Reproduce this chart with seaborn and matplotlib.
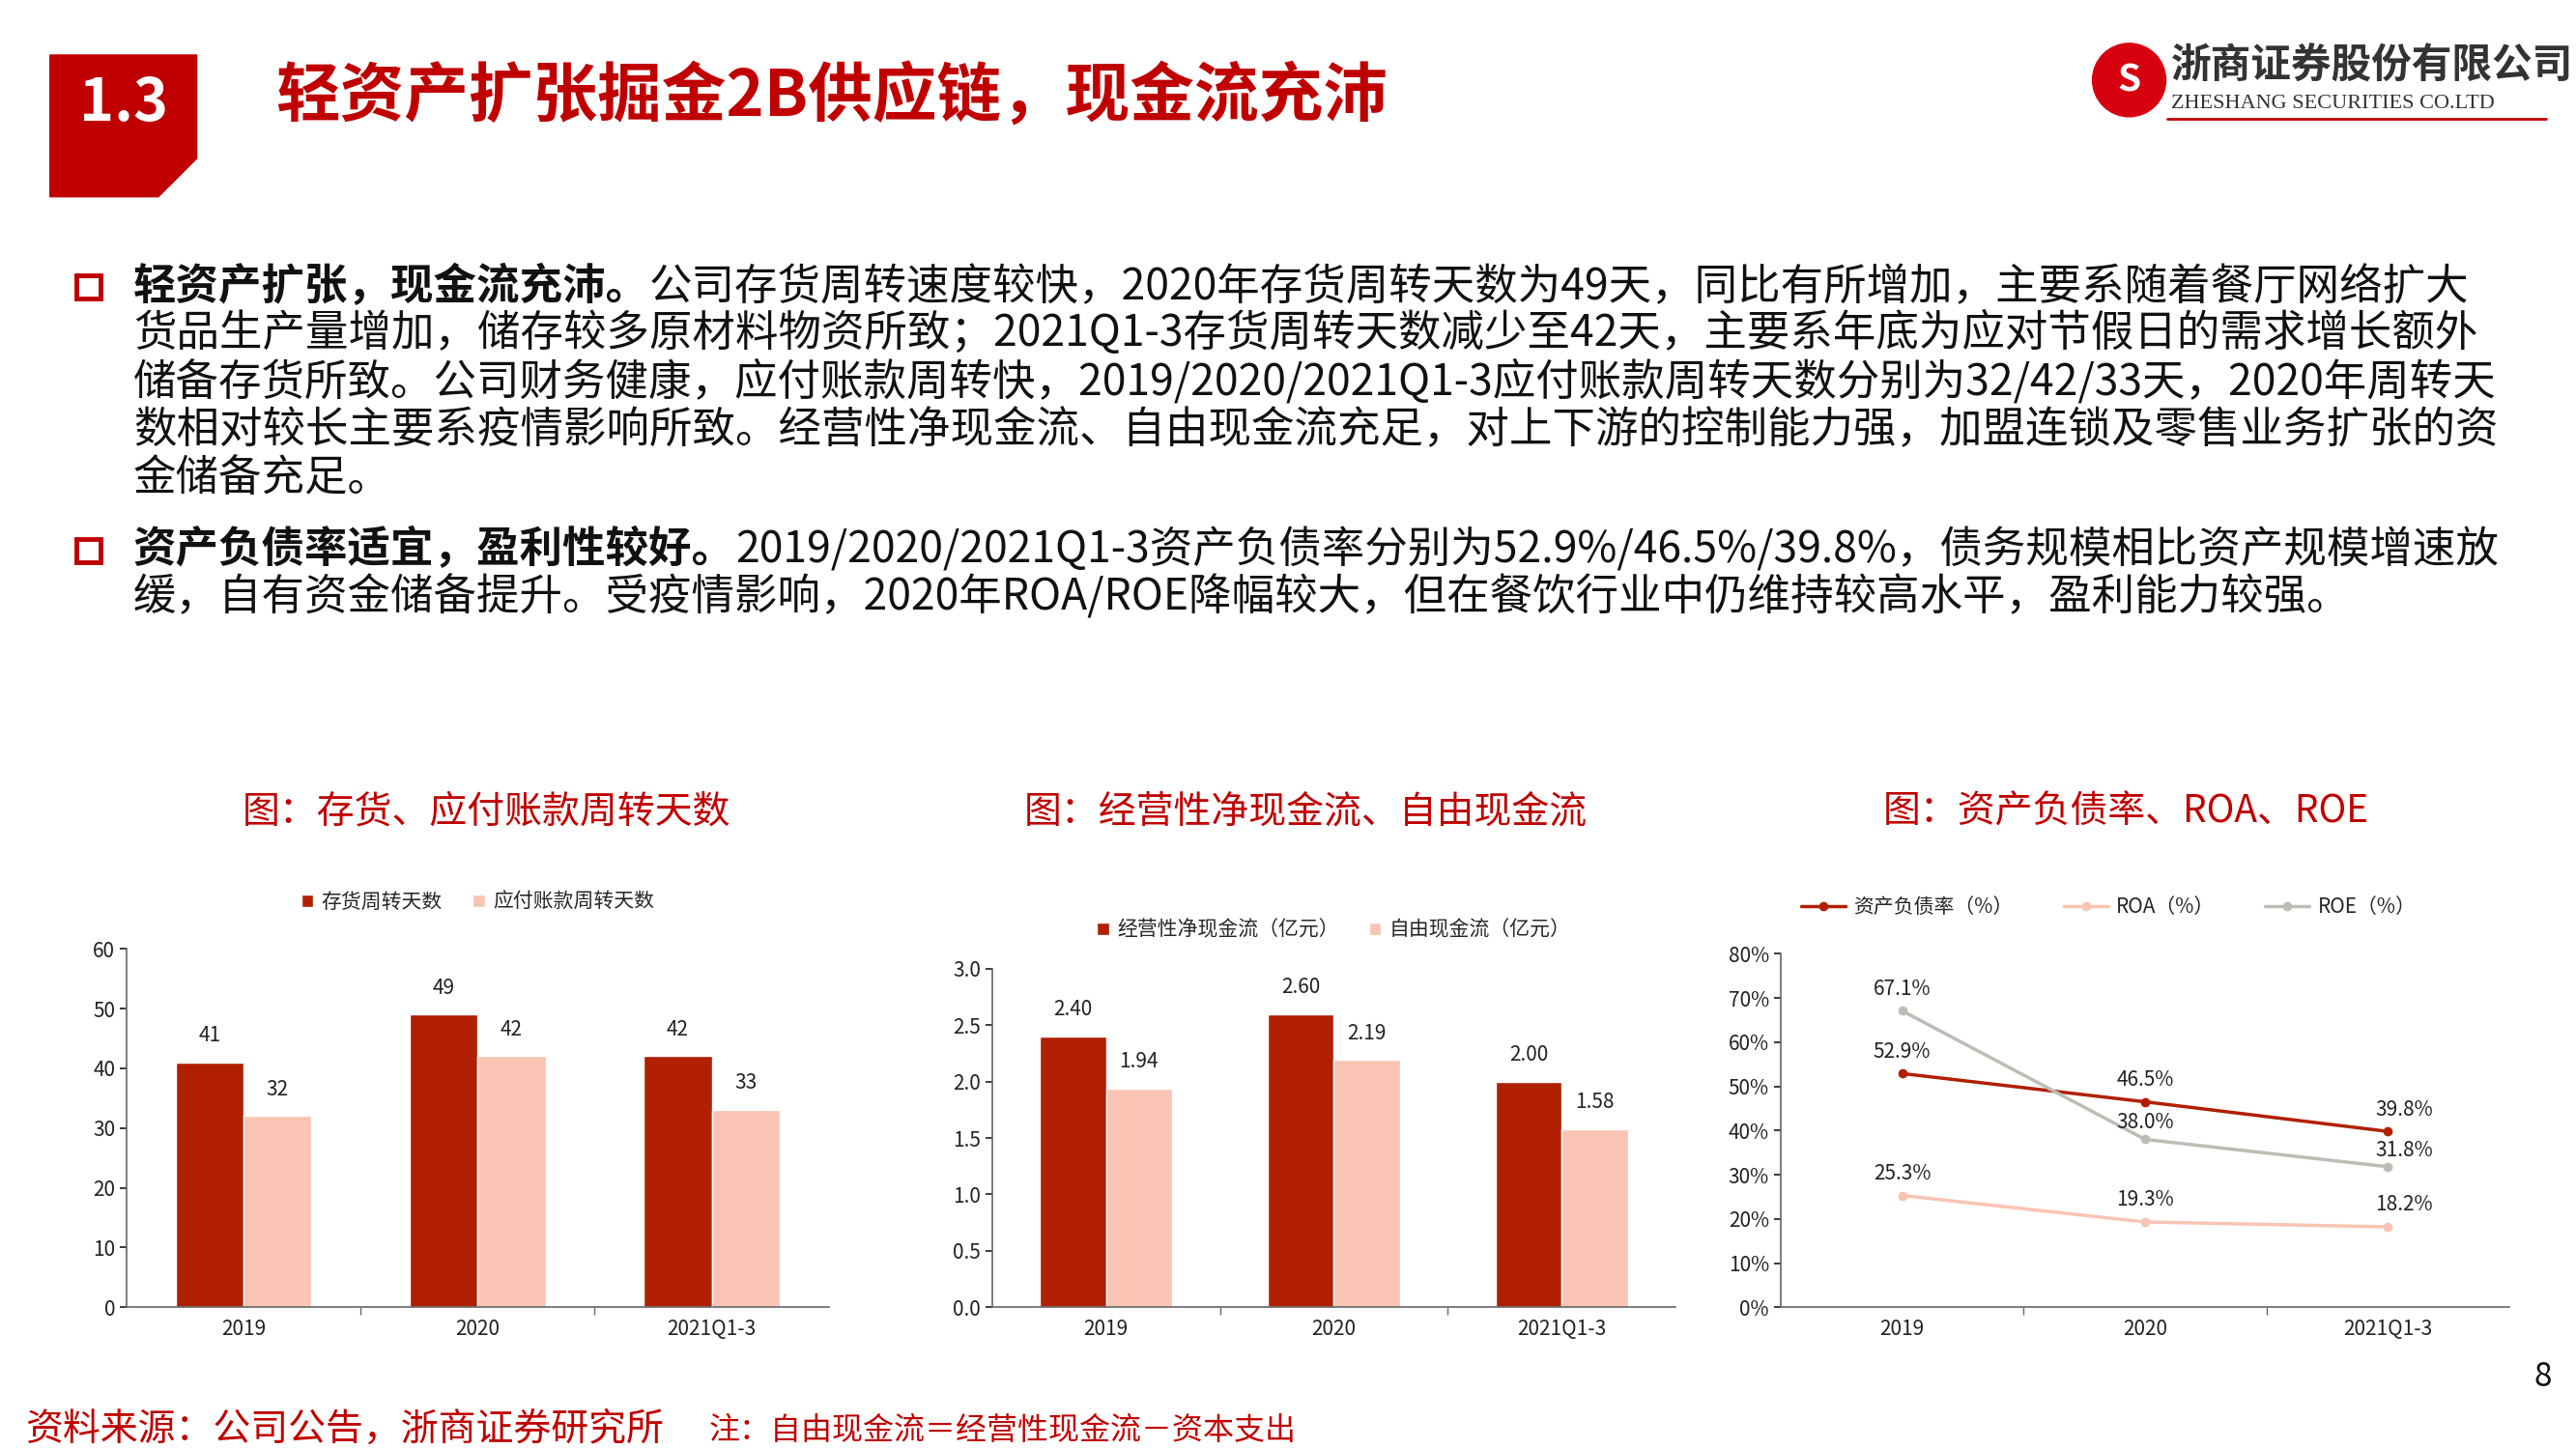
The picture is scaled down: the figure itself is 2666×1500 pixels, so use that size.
import matplotlib
matplotlib.use("Agg")
import matplotlib.pyplot as plt
import seaborn as sns
import pandas as pd
from matplotlib.patches import Rectangle, Polygon, Ellipse

sns.set_theme(style="white")
plt.rcParams['font.family'] = ['Noto Sans CJK SC', 'DejaVu Sans']

years = ["2019", "2020", "2021Q1-3"]
inv_days = [41, 49, 42]
pay_days = [32, 42, 33]
ocf = [2.40, 2.60, 2.00]
fcf = [1.94, 2.19, 1.58]
debt_ratio = [52.9, 46.5, 39.8]
roa = [25.3, 19.3, 18.2]
roe = [67.1, 38.0, 31.8]

DARK = "#B02000"
LIGHT = "#F9C4B3"
RED = "#C00000"
W, H = 1545, 869

fig = plt.figure(figsize=(26.66, 15), dpi=100)

def fx(x): return x / W
def fy(y): return 1 - y / H

# header
fig.patches.append(Polygon([[fx(30), fy(33)], [fx(118), fy(33)], [fx(118), fy(95)], [fx(95), fy(118)], [fx(30), fy(118)]],
                           closed=True, transform=fig.transFigure, color=RED))
fig.text(fx(74), fy(62), "1.3", color="white", fontsize=44, fontweight="bold", ha="center", va="center")
fig.text(fx(165), fy(58), "轻资产扩张掘金2B供应链，现金流充沛", color=RED, fontsize=48, fontweight="bold", va="center")
# logo
fig.patches.append(Ellipse((fx(1277), fy(48)), 44 / W, 44 / H, transform=fig.transFigure, color="#D7000F"))
fig.text(fx(1277), fy(48), "S", color="white", fontsize=28, fontweight="bold", ha="center", va="center")
fig.text(fx(1302), fy(40), "浙商证券股份有限公司", fontsize=30, fontweight="bold", color="#333333", va="center")
fig.text(fx(1302), fy(62), "ZHESHANG SECURITIES CO.LTD", fontsize=16, family=["Liberation Serif"], color="#333333", va="center")
fig.lines.append(plt.Line2D([fx(1300), fx(1527)], [fy(71), fy(71)], transform=fig.transFigure, color=RED, lw=2))

# body text
lines = [
    ("轻资产扩张，现金流充沛。", "公司存货周转速度较快，2020年存货周转天数为49天，同比有所增加，主要系随着餐厅网络扩大", 172),
    ("", "货品生产量增加，储存较多原材料物资所致；2021Q1-3存货周转天数减少至42天，主要系年底为应对节假日的需求增长额外", 200),
    ("", "储备存货所致。公司财务健康，应付账款周转快，2019/2020/2021Q1-3应付账款周转天数分别为32/42/33天，2020年周转天", 229),
    ("", "数相对较长主要系疫情影响所致。经营性净现金流、自由现金流充足，对上下游的控制能力强，加盟连锁及零售业务扩张的资", 258),
    ("", "金储备充足。", 287),
    ("资产负债率适宜，盈利性较好。", "2019/2020/2021Q1-3资产负债率分别为52.9%/46.5%/39.8%，债务规模相比资产规模增速放", 330),
    ("", "缓，自有资金储备提升。受疫情影响，2020年ROA/ROE降幅较大，但在餐饮行业中仍维持较高水平，盈利能力较强。", 358),
]
FS = 32
for b, n, y in lines:
    if b:
        t = fig.text(fx(80), fy(y), b, fontsize=FS, fontweight="bold", va="center", color="#111111")
        ann = plt.Annotation(n, xy=(1, 0.5), xycoords=t, va="center", fontsize=FS, color="#111111")
        fig.add_artist(ann)
        fig.patches.append(Rectangle((fx(46), fy(y + 7)), fx(14), 14 / H, transform=fig.transFigure,
                                     fill=False, ec=RED, lw=3.5))
    else:
        fig.text(fx(80), fy(y), n, fontsize=FS, va="center", color="#111111")

# chart titles
for x, s in [(292, "图：存货、应付账款周转天数"), (783, "图：经营性净现金流、自由现金流"), (1275, "图：资产负债率、ROA、ROE")]:
    fig.text(fx(x), fy(487), s, color=RED, fontsize=28, ha="center", va="center")

def style(ax):
    sns.despine(ax=ax, top=True, right=True)
    for s in ["left", "bottom"]:
        ax.spines[s].set_color("#666666")
        ax.spines[s].set_linewidth(1.2)
    ax.tick_params(axis="both", labelsize=15, colors="#222222", length=5, direction="out", left=True, bottom=False)
    ax.set_xlabel(""); ax.set_ylabel("")
    ax.set_xticks([0.5, 1.5], minor=True)
    ax.tick_params(axis="x", which="minor", length=6, bottom=True, color="#666666")

def bars(rect, v1, v2, n1, n2, ylim, step, fmt, leg_y):
    ax = fig.add_axes(rect)
    df = pd.DataFrame({"year": years * 2, "val": v1 + v2, "s": [n1] * 3 + [n2] * 3})
    sns.barplot(data=df, x="year", y="val", hue="s", palette=[DARK, LIGHT], width=0.58, ax=ax, saturation=1)
    ax.set_ylim(0, ylim)
    ax.set_yticks([i * step for i in range(int(round(ylim / step)) + 1)])
    ax.set_xlim(-0.5, 2.5)
    for c in ax.containers:
        ax.bar_label(c, fmt=fmt, padding=12, fontsize=15, color="#222222")
    ax.legend(loc="lower center", bbox_to_anchor=(0.5, leg_y), ncol=2, frameon=False, fontsize=15,
              handlelength=0.6, handleheight=0.6, handletextpad=0.4, columnspacing=1.5)
    style(ax)
    return ax

ax1 = bars([fx(76), fy(784), fx(497 - 76), (784 - 569) / H], inv_days, pay_days, "存货周转天数", "应付账款周转天数", 60, 10, "%d", 1.05)
ax1.yaxis.set_major_formatter(matplotlib.ticker.FormatStrFormatter("%d"))
ax2 = bars([fx(595), fy(784), fx(1005 - 595), (784 - 581) / H], ocf, fcf, "经营性净现金流（亿元）", "自由现金流（亿元）", 3.0, 0.5, "%.2f", 1.03)
ax2.yaxis.set_major_formatter(matplotlib.ticker.FormatStrFormatter("%.1f"))

ax3 = fig.add_axes([fx(1068), fy(784), fx(1505 - 1068), (784 - 572) / H])
ldf = pd.DataFrame({"year": years * 3, "v": debt_ratio + roa + roe,
                    "s": ["资产负债率（%）"] * 3 + ["ROA（%）"] * 3 + ["ROE（%）"] * 3})
sns.lineplot(data=ldf, x="year", y="v", hue="s", palette=[DARK, LIGHT, "#BDBDB5"], marker="o",
             markersize=7, markeredgewidth=0, linewidth=2.5, ax=ax3, sort=False)
ax3.set_ylim(0, 80)
ax3.set_xlim(-0.5, 2.5)
ax3.set_yticks(range(0, 81, 10))
ax3.set_yticklabels([f"{v}%" for v in range(0, 81, 10)])
offs = {"资产负债率（%）": [(0, 12), (0, 12), (12, 12)], "ROA（%）": [(0, 12), (0, 12), (12, 12)],
        "ROE（%）": [(0, 12), (0, 8), (12, 8)]}
for vals, name in [(debt_ratio, "资产负债率（%）"), (roa, "ROA（%）"), (roe, "ROE（%）")]:
    for i, v in enumerate(vals):
        ax3.annotate(f"{v:.1f}%", (i, v), xytext=offs[name][i], textcoords="offset points",
                     ha="center", fontsize=15, color="#222222")
ax3.legend(loc="lower center", bbox_to_anchor=(0.45, 1.05), ncol=3, frameon=False, fontsize=15,
           handlelength=2.2, handletextpad=0.4, columnspacing=2.5)
style(ax3)

fig.text(fx(15), fy(857), "资料来源：公司公告，浙商证券研究所", color=RED, fontsize=28, va="center")
fig.text(fx(425), fy(858), "注：自由现金流＝经营性现金流－资本支出", color=RED, fontsize=23, va="center")
fig.text(fx(1525), fy(826), "8", fontsize=24, ha="center", va="center", color="#111111")

fig.savefig("out.png", dpi=100)
